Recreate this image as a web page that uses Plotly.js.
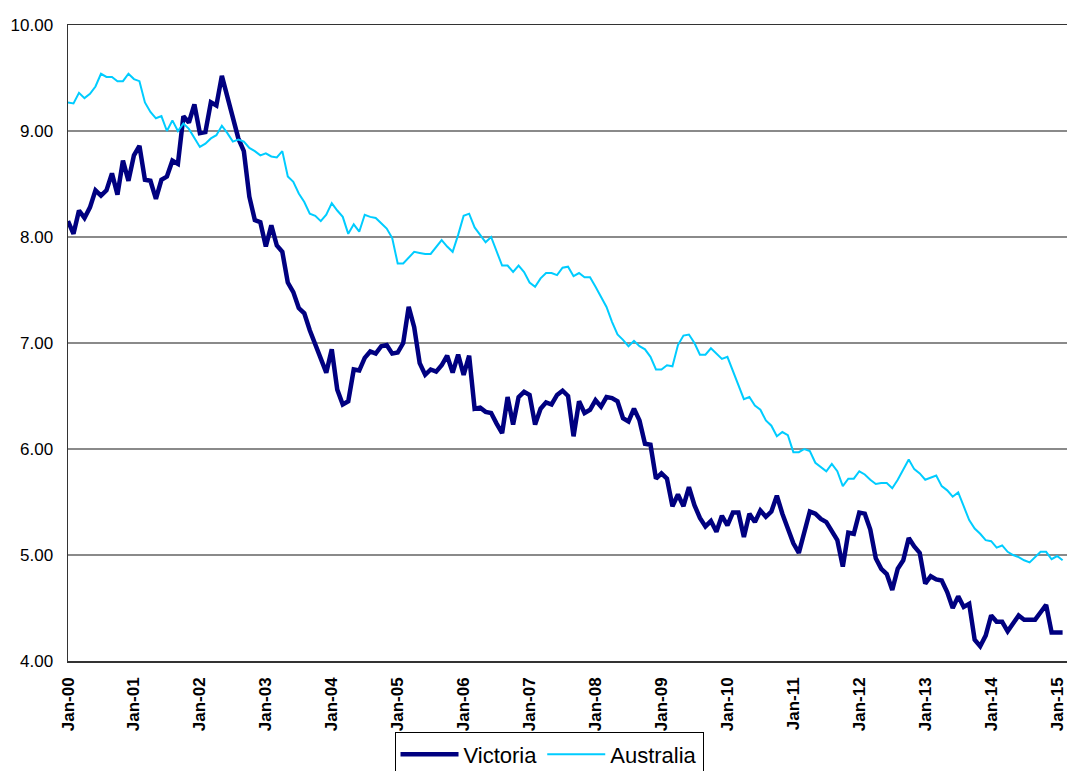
<!DOCTYPE html>
<html>
<head>
<meta charset="utf-8">
<script src="https://cdn.plot.ly/plotly-3.0.1.min.js"></script>
<style>
  html, body { margin: 0; padding: 0; background: #ffffff; }
  #chart { width: 1067px; height: 771px; }
</style>
</head>
<body>
<div id="chart"></div>
<script>
// Monthly values, Jan-00 .. Feb-15 (last point runs off the right edge)
const victoria = [
  8.15, 8.03, 8.25, 8.18, 8.28, 8.44, 8.39, 8.44, 8.60, 8.40, 8.72, 8.53,
  8.77, 8.86, 8.54, 8.53, 8.36, 8.54, 8.57, 8.72, 8.69, 9.14, 9.08, 9.25,
  8.98, 8.99, 9.27, 9.24, 9.52, 9.32, 9.15, 8.93, 8.81, 8.38, 8.16, 8.14,
  7.91, 8.11, 7.92, 7.86, 7.57, 7.48, 7.33, 7.28, 7.12, 6.98, 6.84, 6.72,
  6.94, 6.56, 6.42, 6.45, 6.75, 6.74, 6.86, 6.92, 6.90, 6.97, 6.98, 6.90,
  6.91, 7.00, 7.34, 7.15, 6.81, 6.70, 6.75, 6.73, 6.79, 6.88, 6.72, 6.89,
  6.70, 6.88, 6.38, 6.39, 6.35, 6.34, 6.24, 6.15, 6.49, 6.23, 6.49, 6.54,
  6.51, 6.23, 6.38, 6.44, 6.42, 6.51, 6.55, 6.50, 6.12, 6.45, 6.34, 6.37,
  6.46, 6.40, 6.49, 6.48, 6.45, 6.29, 6.26, 6.38, 6.27, 6.05, 6.04, 5.72,
  5.77, 5.72, 5.46, 5.57, 5.46, 5.64, 5.47, 5.35, 5.27, 5.32, 5.22, 5.37,
  5.28, 5.40, 5.40, 5.17, 5.39, 5.31, 5.42, 5.36, 5.41, 5.56, 5.39, 5.24,
  5.11, 5.02, 5.22, 5.41, 5.39, 5.34, 5.31, 5.22, 5.14, 4.89, 5.21, 5.20,
  5.40, 5.39, 5.24, 4.97, 4.87, 4.82, 4.67, 4.87, 4.95, 5.16, 5.08, 5.02,
  4.73, 4.80, 4.77, 4.76, 4.65, 4.50, 4.61, 4.51, 4.54, 4.20, 4.14, 4.24,
  4.43, 4.37, 4.37, 4.28, 4.36, 4.43, 4.39, 4.39, 4.39, 4.46, 4.53, 4.27,
  4.27, 4.27
];
const australia = [
  9.27, 9.26, 9.36, 9.31, 9.35, 9.42, 9.54, 9.51, 9.51, 9.47, 9.47, 9.54,
  9.49, 9.47, 9.27, 9.18, 9.12, 9.14, 9.00, 9.10, 9.00, 9.07, 9.02, 8.94,
  8.85, 8.88, 8.93, 8.96, 9.05, 8.98, 8.90, 8.92, 8.90, 8.84, 8.81, 8.77,
  8.79, 8.76, 8.75, 8.81, 8.57, 8.52, 8.41, 8.33, 8.22, 8.20, 8.15, 8.21,
  8.32, 8.25, 8.19, 8.03, 8.12, 8.05, 8.21, 8.19, 8.18, 8.13, 8.08, 7.99,
  7.75, 7.75, 7.81, 7.86, 7.85, 7.84, 7.84, 7.91, 7.97, 7.91, 7.86, 8.02,
  8.20, 8.22, 8.09, 8.02, 7.95, 8.00, 7.86, 7.73, 7.73, 7.67, 7.73, 7.67,
  7.57, 7.53, 7.61, 7.66, 7.66, 7.64, 7.71, 7.72, 7.63, 7.66, 7.62, 7.62,
  7.53, 7.44, 7.34, 7.20, 7.08, 7.03, 6.97, 7.02, 6.97, 6.94, 6.87, 6.75,
  6.75, 6.79, 6.78, 6.98, 7.07, 7.08, 7.00, 6.89, 6.89, 6.95, 6.90, 6.85,
  6.87, 6.73, 6.60, 6.47, 6.49, 6.41, 6.37, 6.27, 6.22, 6.12, 6.16, 6.13,
  5.97, 5.97, 6.00, 5.98, 5.87, 5.83, 5.79, 5.86, 5.79, 5.65, 5.72, 5.72,
  5.79, 5.76, 5.71, 5.67, 5.68, 5.68, 5.63, 5.71, 5.80, 5.90, 5.81, 5.77,
  5.71, 5.73, 5.75, 5.65, 5.61, 5.55, 5.59, 5.46, 5.33, 5.25, 5.20, 5.14,
  5.13, 5.07, 5.09, 5.03, 5.00, 4.98, 4.95, 4.93, 4.98, 5.03, 5.03, 4.96,
  4.99, 4.95
];
const tickLabels = ["Jan-00","Jan-01","Jan-02","Jan-03","Jan-04","Jan-05","Jan-06","Jan-07",
                    "Jan-08","Jan-09","Jan-10","Jan-11","Jan-12","Jan-13","Jan-14","Jan-15"];
const yTicks = [4, 5, 6, 7, 8, 9, 10];

const monthIndex = victoria.map((_, i) => i);
const tickPositions = tickLabels.map((_, k) => k * 12);

const FONT = "Liberation Sans, Arial, Helvetica, sans-serif";

const traces = [
  { x: monthIndex, y: victoria, name: "Victoria", type: "scatter", mode: "lines",
    line: { color: "#000080", width: 4.5 } },
  { x: monthIndex, y: australia, name: "Australia", type: "scatter", mode: "lines",
    line: { color: "#00CCFF", width: 2 } }
];

const layout = {
  width: 1067, height: 771,
  margin: { l: 68, r: 0, t: 25, b: 110, pad: 0 },
  paper_bgcolor: "#ffffff", plot_bgcolor: "#ffffff",
  font: { family: FONT, color: "#000000", size: 17 },
  showlegend: true,
  legend: {
    orientation: "h", xref: "paper", x: 0.4815, xanchor: "center",
    yref: "container", y: 0.05, yanchor: "top",
    bordercolor: "#000000", borderwidth: 1, bgcolor: "#ffffff",
    font: { family: FONT, size: 22, color: "#000000" },
    itemwidth: 58, traceorder: "normal"
  },
  xaxis: {
    range: [0, 181.8], tickmode: "array", tickvals: tickPositions, ticktext: tickLabels,
    tickangle: -90, tickfont: { family: FONT, size: 17, weight: "bold", color: "#000000" },
    ticklabeloverflow: "allow",
    showgrid: false, zeroline: false, showline: true, linecolor: "#333333", linewidth: 1.5,
    mirror: true, ticks: "", ticklabelstandoff: 8, fixedrange: true
  },
  yaxis: {
    range: [4, 10], tickmode: "array", tickvals: yTicks, tickformat: ".2f",
    tickfont: { family: FONT, size: 17, color: "#000000" },
    showgrid: true, gridcolor: "#8a8a8a", gridwidth: 1.5, zeroline: false,
    showline: true, linecolor: "#333333", linewidth: 1.5, ticks: "", ticklabelstandoff: 10,
    fixedrange: true
  }
};

Plotly.newPlot("chart", traces, layout, { displayModeBar: false, staticPlot: true });
</script>
</body>
</html>
